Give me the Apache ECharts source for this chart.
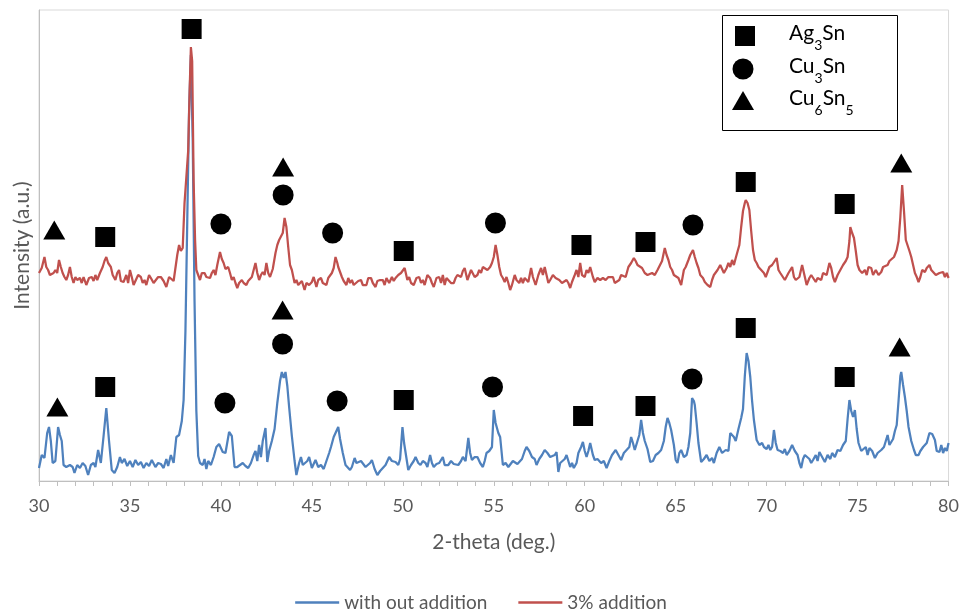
<!DOCTYPE html>
<html>
<head>
<meta charset="utf-8">
<script src="https://cdn.jsdelivr.net/npm/echarts@6/dist/echarts.min.js"></script>
<style>
html,body{margin:0;padding:0;background:#fff;}
#chart{width:962px;height:615px;}
</style>
</head>
<body>
<div id="chart"></div>
<script>
// ---- Data (2-theta in degrees, intensity in arbitrary units) ----
const seriesNames = ['with out addition', '3% addition'];
const phaseNames = ['Ag3Sn', 'Cu3Sn', 'Cu6Sn5'];
const xTicks = [30, 35, 40, 45, 50, 55, 60, 65, 70, 75, 80];

const withoutAddition = [[30.0,13],[30.15,26],[30.3,23],[30.45,48],[30.55,54],[30.65,40],[30.75,18],[30.9,20],[31.05,54],[31.15,46],[31.25,40],[31.35,16],[31.5,14],[31.7,16],[31.85,14],[31.95,8],[32.1,16],[32.25,13],[32.4,18],[32.55,15],[32.7,6],[32.85,16],[33.0,18],[33.1,14],[33.25,31],[33.4,18],[33.55,45],[33.7,73],[33.85,40],[34.0,11],[34.15,8],[34.3,14],[34.45,24],[34.55,18],[34.7,22],[34.85,15],[35.0,20],[35.15,14],[35.3,21],[35.45,16],[35.6,19],[35.75,13],[35.9,18],[36.05,15],[36.2,21],[36.4,14],[36.55,18],[36.7,17],[36.85,13],[37.0,22],[37.1,15],[37.25,26],[37.4,18],[37.55,44],[37.7,46],[37.85,60],[37.95,81],[38.05,150],[38.15,260],[38.25,370],[38.35,426],[38.45,340],[38.55,180],[38.65,70],[38.75,25],[38.85,18],[39.0,16],[39.1,22],[39.2,12],[39.3,20],[39.45,16],[39.6,24],[39.75,34],[39.9,37],[40.0,38],[40.1,29],[40.25,28],[40.35,30],[40.45,49],[40.6,45],[40.75,14],[40.9,14],[41.05,16],[41.2,18],[41.35,15],[41.5,13],[41.65,18],[41.8,26],[41.9,30],[42.0,20],[42.1,36],[42.2,24],[42.3,40],[42.45,53],[42.55,19],[42.65,30],[42.8,40],[42.95,52],[43.1,78],[43.25,100],[43.35,109],[43.45,103],[43.55,109],[43.65,95],[43.75,74],[43.9,45],[44.05,20],[44.15,6],[44.3,18],[44.4,24],[44.5,16],[44.6,14],[44.75,20],[44.85,24],[45.0,13],[45.1,17],[45.2,21],[45.35,14],[45.5,16],[45.65,12],[45.8,20],[45.95,28],[46.05,34],[46.2,44],[46.35,50],[46.45,54],[46.55,42],[46.7,28],[46.85,16],[46.95,14],[47.1,11],[47.2,14],[47.35,23],[47.45,18],[47.55,16],[47.7,20],[47.8,19],[47.95,14],[48.05,16],[48.2,18],[48.3,21],[48.45,12],[48.6,6],[48.75,10],[48.9,13],[49.05,16],[49.25,24],[49.4,20],[49.6,19],[49.75,16],[49.85,22],[49.98,54],[50.07,38],[50.17,36],[50.3,11],[50.45,16],[50.6,20],[50.7,24],[50.85,18],[50.97,16],[51.1,20],[51.25,18],[51.35,14],[51.5,26],[51.6,18],[51.7,14],[51.85,17],[52.0,18],[52.2,24],[52.3,16],[52.5,16],[52.65,20],[52.8,17],[52.9,18],[53.05,16],[53.2,20],[53.3,24],[53.45,20],[53.6,43],[53.7,28],[53.8,21],[53.95,24],[54.1,24],[54.25,18],[54.4,14],[54.5,20],[54.6,28],[54.75,30],[54.9,34],[55.0,71],[55.1,58],[55.25,48],[55.35,44],[55.5,16],[55.65,18],[55.8,14],[55.9,14],[56.05,20],[56.15,21],[56.3,17],[56.4,16],[56.55,22],[56.7,30],[56.8,34],[56.95,30],[57.1,24],[57.25,22],[57.35,16],[57.5,22],[57.65,26],[57.8,31],[57.95,28],[58.1,24],[58.2,24],[58.35,26],[58.45,29],[58.55,9],[58.65,18],[58.75,18],[58.9,22],[59.0,26],[59.1,20],[59.2,14],[59.3,18],[59.4,13],[59.55,18],[59.65,28],[59.8,34],[59.9,39],[60.0,30],[60.1,24],[60.2,30],[60.3,38],[60.45,26],[60.55,21],[60.7,22],[60.9,18],[61.05,20],[61.2,13],[61.35,20],[61.5,26],[61.6,24],[61.7,31],[61.85,26],[62.0,21],[62.15,28],[62.3,31],[62.45,34],[62.55,44],[62.65,38],[62.75,31],[62.9,40],[63.0,46],[63.1,61],[63.2,48],[63.3,40],[63.45,32],[63.6,19],[63.75,20],[63.9,26],[64.05,28],[64.2,31],[64.35,40],[64.45,54],[64.55,63],[64.65,58],[64.75,51],[64.9,36],[65.0,21],[65.1,18],[65.2,28],[65.3,31],[65.45,24],[65.6,26],[65.7,34],[65.8,48],[65.9,83],[66.0,80],[66.05,76],[66.15,58],[66.25,38],[66.4,19],[66.55,22],[66.7,26],[66.85,20],[67.0,23],[67.1,18],[67.25,28],[67.4,34],[67.55,28],[67.65,30],[67.75,31],[67.9,30],[68.0,48],[68.1,50],[68.2,44],[68.3,40],[68.45,52],[68.6,63],[68.7,72],[68.8,105],[68.9,128],[69.0,120],[69.1,104],[69.2,80],[69.3,61],[69.45,41],[69.6,36],[69.75,38],[69.85,34],[70.0,32],[70.1,36],[70.2,31],[70.3,34],[70.4,51],[70.5,38],[70.6,31],[70.75,30],[70.9,28],[71.0,32],[71.1,26],[71.25,30],[71.4,36],[71.55,30],[71.7,26],[71.8,18],[71.9,13],[72.0,22],[72.1,26],[72.2,28],[72.35,22],[72.45,18],[72.55,21],[72.7,26],[72.8,20],[72.9,29],[73.05,24],[73.2,19],[73.35,26],[73.5,22],[73.6,28],[73.75,24],[73.9,31],[74.05,30],[74.2,36],[74.35,40],[74.45,62],[74.55,81],[74.65,70],[74.75,64],[74.85,71],[74.95,52],[75.05,38],[75.2,30],[75.3,28],[75.45,34],[75.55,26],[75.65,33],[75.8,30],[75.95,23],[76.1,28],[76.2,26],[76.3,31],[76.45,34],[76.55,40],[76.65,46],[76.75,36],[76.85,38],[76.95,42],[77.05,50],[77.15,56],[77.25,80],[77.35,105],[77.4,109],[77.5,96],[77.6,84],[77.7,70],[77.8,54],[77.95,40],[78.1,31],[78.2,26],[78.35,26],[78.45,30],[78.6,34],[78.7,32],[78.8,38],[78.95,48],[79.1,47],[79.25,41],[79.35,30],[79.5,29],[79.6,36],[79.7,28],[79.8,33],[79.9,30],[80.0,38]];

const withAddition3 = [[30.0,208],[30.15,213],[30.3,224],[30.4,214],[30.5,211],[30.6,206],[30.7,204],[30.8,208],[30.9,211],[31.0,208],[31.1,221],[31.2,214],[31.3,208],[31.4,204],[31.5,201],[31.6,206],[31.7,214],[31.8,204],[31.9,198],[32.0,204],[32.1,201],[32.25,203],[32.35,198],[32.45,204],[32.6,196],[32.75,203],[32.9,204],[33.0,200],[33.1,206],[33.2,201],[33.35,208],[33.5,214],[33.6,220],[33.7,224],[33.8,218],[33.95,214],[34.05,206],[34.2,201],[34.3,208],[34.4,211],[34.5,200],[34.65,199],[34.8,206],[34.9,198],[35.0,211],[35.1,204],[35.2,196],[35.3,198],[35.45,206],[35.6,204],[35.7,198],[35.8,201],[35.9,196],[36.05,206],[36.15,203],[36.3,198],[36.4,196],[36.55,204],[36.7,204],[36.85,200],[37.0,194],[37.15,204],[37.25,206],[37.4,200],[37.5,201],[37.6,226],[37.7,236],[37.8,230],[37.9,233],[38.0,278],[38.1,276],[38.2,330],[38.28,390],[38.35,434],[38.42,420],[38.5,300],[38.58,241],[38.65,211],[38.75,206],[38.85,201],[38.95,208],[39.1,208],[39.2,204],[39.3,206],[39.4,203],[39.5,208],[39.6,211],[39.7,206],[39.8,216],[39.95,229],[40.05,222],[40.15,218],[40.25,212],[40.4,214],[40.5,208],[40.6,201],[40.7,204],[40.8,198],[40.9,193],[41.0,198],[41.15,201],[41.25,198],[41.4,196],[41.5,200],[41.6,198],[41.7,204],[41.8,206],[41.9,218],[42.0,208],[42.1,201],[42.2,206],[42.3,209],[42.4,206],[42.5,218],[42.6,208],[42.7,204],[42.85,212],[43.0,228],[43.1,236],[43.2,241],[43.3,239],[43.4,248],[43.5,263],[43.6,254],[43.7,234],[43.8,216],[43.9,211],[44.05,198],[44.15,201],[44.25,196],[44.35,196],[44.45,200],[44.6,191],[44.7,198],[44.85,196],[45.0,199],[45.1,204],[45.25,194],[45.35,201],[45.5,203],[45.6,198],[45.7,200],[45.8,196],[45.9,203],[46.0,204],[46.1,208],[46.2,213],[46.3,224],[46.4,218],[46.45,214],[46.55,209],[46.65,204],[46.75,200],[46.9,196],[47.0,203],[47.1,198],[47.2,201],[47.3,196],[47.4,194],[47.55,200],[47.7,201],[47.8,196],[47.9,198],[48.0,196],[48.1,203],[48.25,203],[48.35,198],[48.5,194],[48.6,200],[48.75,201],[48.9,201],[49.0,196],[49.1,203],[49.25,198],[49.4,204],[49.5,200],[49.6,203],[49.75,206],[49.9,208],[50.0,206],[50.1,213],[50.25,201],[50.35,204],[50.45,198],[50.6,196],[50.75,203],[50.9,204],[51.0,198],[51.1,201],[51.2,196],[51.35,206],[51.5,203],[51.6,198],[51.7,194],[51.85,203],[52.0,204],[52.1,198],[52.2,206],[52.3,196],[52.4,203],[52.5,204],[52.65,198],[52.8,198],[52.9,203],[53.0,206],[53.1,208],[53.2,204],[53.3,210],[53.4,213],[53.55,201],[53.65,206],[53.75,211],[53.85,211],[53.95,204],[54.1,206],[54.2,211],[54.3,208],[54.4,214],[54.5,213],[54.65,211],[54.8,214],[54.9,218],[55.0,224],[55.1,236],[55.2,226],[55.3,214],[55.4,206],[55.5,203],[55.6,199],[55.7,204],[55.8,198],[55.9,191],[56.0,196],[56.15,206],[56.25,201],[56.4,198],[56.5,203],[56.6,198],[56.7,203],[56.8,203],[56.9,199],[57.05,213],[57.15,204],[57.3,196],[57.45,206],[57.6,213],[57.7,206],[57.8,214],[57.9,206],[58.0,198],[58.1,201],[58.25,206],[58.4,203],[58.5,204],[58.6,201],[58.75,198],[58.85,196],[59.0,201],[59.1,198],[59.2,193],[59.3,199],[59.45,206],[59.55,211],[59.65,204],[59.75,218],[59.85,206],[60.0,204],[60.1,211],[60.2,208],[60.3,214],[60.45,204],[60.55,199],[60.7,203],[60.85,201],[61.0,203],[61.15,201],[61.3,204],[61.4,206],[61.55,204],[61.65,198],[61.75,196],[61.9,201],[62.0,206],[62.1,208],[62.25,204],[62.4,214],[62.55,218],[62.7,223],[62.8,220],[62.9,216],[63.0,218],[63.15,213],[63.3,208],[63.45,206],[63.55,204],[63.7,208],[63.85,206],[64.0,211],[64.1,213],[64.25,220],[64.4,233],[64.5,226],[64.6,221],[64.7,214],[64.8,211],[64.9,206],[65.0,204],[65.15,203],[65.3,196],[65.45,211],[65.55,214],[65.7,221],[65.8,226],[65.9,224],[65.95,231],[66.05,224],[66.15,218],[66.25,213],[66.35,206],[66.5,203],[66.6,199],[66.75,196],[66.9,194],[67.0,201],[67.1,206],[67.2,204],[67.3,211],[67.45,216],[67.55,218],[67.65,208],[67.8,213],[67.9,218],[68.0,214],[68.1,221],[68.2,216],[68.3,223],[68.4,224],[68.5,236],[68.6,254],[68.7,270],[68.8,278],[68.85,281],[68.95,278],[69.05,271],[69.15,250],[69.25,231],[69.35,221],[69.45,218],[69.55,214],[69.7,211],[69.85,208],[69.95,204],[70.05,206],[70.15,214],[70.3,216],[70.4,218],[70.55,223],[70.65,211],[70.75,208],[70.85,206],[71.0,201],[71.1,199],[71.2,208],[71.3,211],[71.4,214],[71.5,204],[71.6,201],[71.7,199],[71.8,204],[71.95,216],[72.05,208],[72.2,196],[72.35,203],[72.45,206],[72.55,204],[72.7,199],[72.8,203],[72.9,204],[73.0,201],[73.1,208],[73.2,209],[73.3,206],[73.45,218],[73.55,213],[73.65,204],[73.75,199],[73.9,206],[74.05,211],[74.2,216],[74.35,220],[74.45,224],[74.55,240],[74.6,254],[74.7,248],[74.8,243],[74.9,230],[75.0,216],[75.1,211],[75.25,208],[75.4,211],[75.5,206],[75.6,214],[75.75,213],[75.85,206],[76.0,211],[76.15,206],[76.3,209],[76.4,214],[76.5,214],[76.65,216],[76.75,220],[76.85,218],[77.0,224],[77.15,231],[77.25,240],[77.35,264],[77.45,296],[77.55,270],[77.65,241],[77.75,243],[77.85,230],[77.95,224],[78.05,216],[78.15,208],[78.25,204],[78.35,199],[78.45,204],[78.55,211],[78.7,209],[78.8,213],[78.95,216],[79.05,211],[79.15,209],[79.3,206],[79.4,204],[79.5,208],[79.6,206],[79.7,209],[79.8,204],[79.9,208],[80.0,203]];

// Phase markers [2-theta, intensity at which the marker is drawn]
const ag3snMarks = [[33.64,94],[50.05,81],[59.91,65],[63.34,75],[68.85,153],[74.29,104],[33.64,244],[38.39,452],[50.05,230],[59.82,236],[63.34,239],[68.85,299],[74.29,277]];
const cu3snMarks = [[40.22,78],[43.39,137],[46.39,80],[54.93,94],[65.90,102],[40.0,257],[43.42,286],[46.14,248],[55.09,258],[65.95,256]];
const cu6sn5Marks = [[31.01,74],[43.39,171],[77.31,134],[30.84,251],[43.42,314],[77.40,318]];

// ---- Chart ----
const FONT = 'Lato';
const GREY = '#595959';
const chart = echarts.init(document.getElementById('chart'), null, {renderer: 'canvas'});

const legendRich = {
  n: {fontSize: 21, fontFamily: FONT, color: '#000', lineHeight: 24, verticalAlign: 'top'},
  s: {fontSize: 14, fontFamily: FONT, color: '#000', lineHeight: 14, verticalAlign: 'top', padding: [15, 0, 0, 0]}
};
function phaseText(name) {
  // split chemical formula into normal text and subscript digits
  return name.replace(/([A-Za-z]+)|(\d+)/g, function (m, a, d) {
    return a ? '{n|' + a + '}' : '{s|' + d + '}';
  });
}

const option = {
  backgroundColor: '#fff',
  animation: false,
  textStyle: {fontFamily: FONT},
  grid: {left: 39, right: 13, top: 10, bottom: 134, show: true, borderColor: '#d9d9d9', borderWidth: 1, containLabel: false},
  legend: {
    data: seriesNames,
    top: 593,
    left: 'center',
    padding: 0,
    icon: 'rect',
    itemWidth: 44,
    itemHeight: 2.5,
    itemGap: 31,
    textStyle: {fontFamily: FONT, fontSize: 19, color: GREY}
  },
  xAxis: {
    type: 'value',
    min: xTicks[0],
    max: xTicks[xTicks.length - 1],
    interval: 5,
    name: '2-theta (deg.)',
    nameLocation: 'middle',
    nameGap: 51,
    nameTextStyle: {fontFamily: FONT, fontSize: 21, color: GREY},
    axisLine: {lineStyle: {color: '#bfbfbf', width: 1}},
    axisTick: {show: true, length: 5, lineStyle: {color: '#bfbfbf'}},
    minorTick: {show: true, splitNumber: 5, length: 5, lineStyle: {color: '#bfbfbf'}},
    axisLabel: {fontFamily: FONT, fontSize: 18, color: GREY, margin: 16},
    splitLine: {show: false}
  },
  yAxis: {
    type: 'value',
    min: 0,
    max: 471,
    name: 'Intensity (a.u.)',
    nameLocation: 'middle',
    nameGap: 6,
    nameTextStyle: {fontFamily: FONT, fontSize: 21, color: GREY},
    axisLine: {show: true, lineStyle: {color: '#bfbfbf', width: 1}},
    axisTick: {show: false},
    axisLabel: {show: false},
    splitLine: {show: false}
  },
  series: [
    {
      name: seriesNames[0], type: 'line', data: withoutAddition, symbol: 'none', showSymbol: false,
      lineStyle: {color: '#4F81BD', width: 2.25}, itemStyle: {color: '#4F81BD'}, z: 2
    },
    {
      name: seriesNames[1], type: 'line', data: withAddition3, symbol: 'none', showSymbol: false,
      lineStyle: {color: '#C0504D', width: 2.25}, itemStyle: {color: '#C0504D'}, z: 3
    },
    {
      name: phaseNames[0], type: 'scatter', data: ag3snMarks, symbol: 'rect', symbolSize: [20, 20],
      itemStyle: {color: '#000', opacity: 1}, z: 5
    },
    {
      name: phaseNames[1], type: 'scatter', data: cu3snMarks, symbol: 'circle', symbolSize: 21,
      itemStyle: {color: '#000', opacity: 1}, z: 5
    },
    {
      name: phaseNames[2], type: 'scatter', data: cu6sn5Marks, symbol: 'triangle', symbolSize: [22, 19],
      itemStyle: {color: '#000', opacity: 1}, z: 5
    }
  ],
  graphic: [
    {type: 'rect', left: 722, top: 15, shape: {width: 175, height: 115}, style: {fill: '#fff', stroke: '#000', lineWidth: 1}, z: 10},
    {type: 'rect', left: 735, top: 26, shape: {width: 20, height: 20}, style: {fill: '#000'}, z: 11},
    {type: 'circle', left: 732.5, top: 58.5, shape: {r: 10.5}, style: {fill: '#000'}, z: 11},
    {type: 'polygon', shape: {points: [[732, 110], [754, 110], [743, 91]]}, style: {fill: '#000'}, z: 11},
    {type: 'text', left: 789, top: 23, style: {text: phaseText(phaseNames[0]), rich: legendRich}, z: 11},
    {type: 'text', left: 789, top: 56, style: {text: phaseText(phaseNames[1]), rich: legendRich}, z: 11},
    {type: 'text', left: 789, top: 88, style: {text: phaseText(phaseNames[2]), rich: legendRich}, z: 11}
  ]
};
chart.setOption(option);
</script>
</body>
</html>
